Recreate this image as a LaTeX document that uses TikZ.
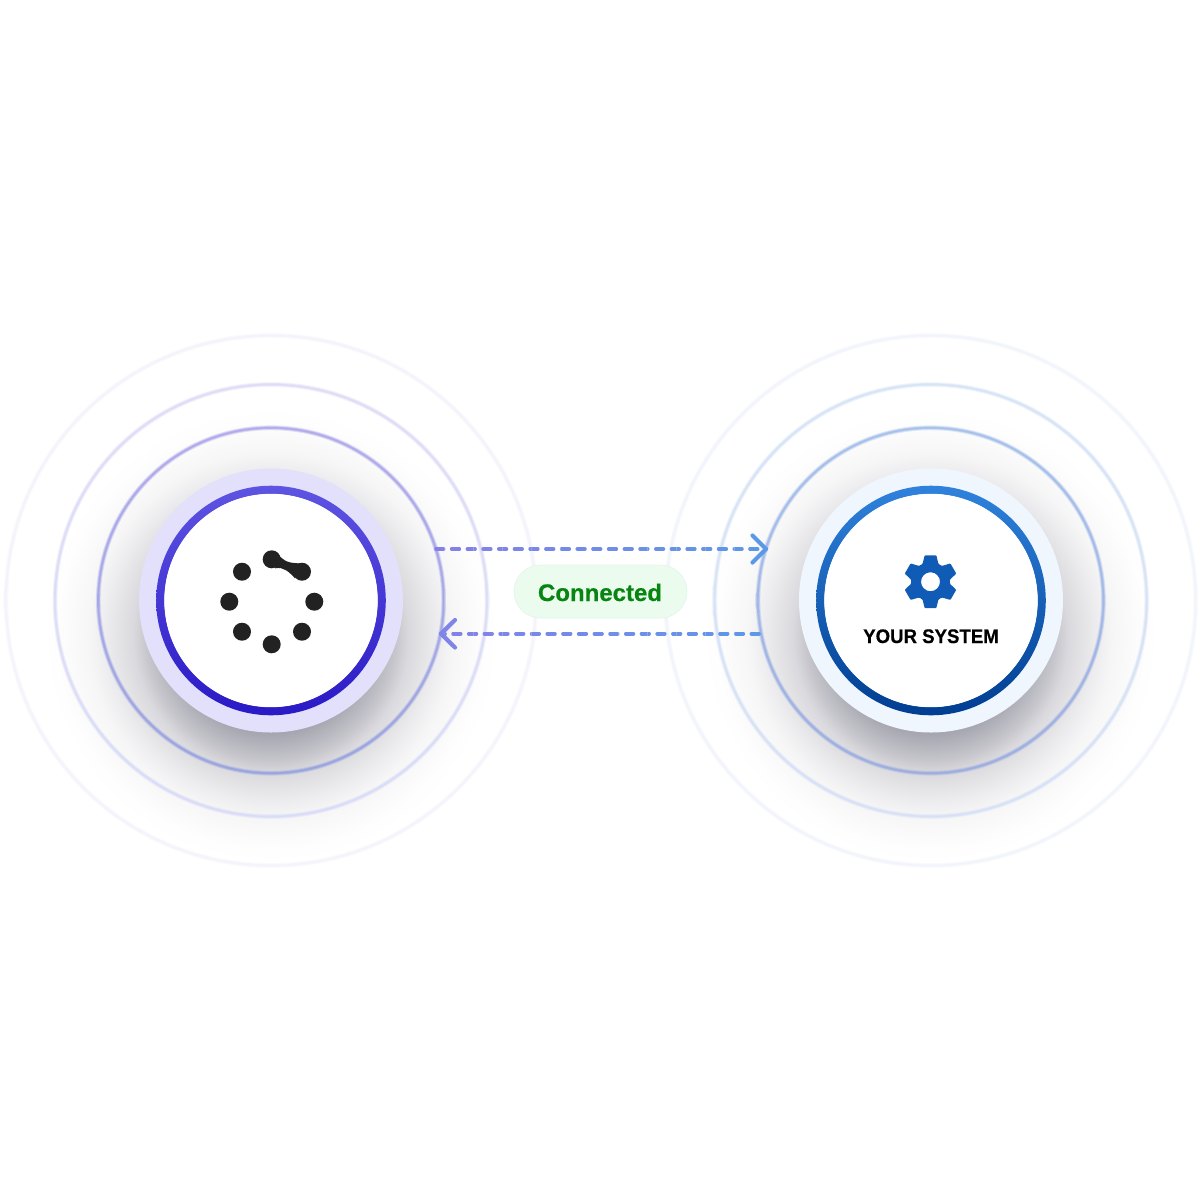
\documentclass[tikz,border=0pt]{standalone}
\usepackage{fontspec}
\usetikzlibrary{calc}
\setmainfont{Liberation Sans}
\newfontfamily\heavyfont{Liberation Sans Bold}[FakeBold=0.45]
\definecolor{sa}{HTML}{9E9EA8}
\definecolor{sb}{HTML}{A8A8B2}
\definecolor{sc}{HTML}{C6C6CC}
\definecolor{sd}{HTML}{DADADE}
\definecolor{se}{HTML}{ECECEE}
\definecolor{sf}{HTML}{F6F6F7}
\definecolor{sg}{HTML}{FEFEFE}
\pgfdeclareradialshading{softshadow}{\pgfpointorigin}{%
 color(0bp)=(sa); color(9.78bp)=(sa); color(10.87bp)=(sb); color(13.6bp)=(sc);
 color(15bp)=(sd); color(17.93bp)=(se); color(19.8bp)=(sf); color(23.4bp)=(sg); color(25bp)=(white); color(50bp)=(white)}
\definecolor{dl}{HTML}{8580E8}
\definecolor{dr}{HTML}{5C98E8}
\definecolor{logoc}{HTML}{222222}
\definecolor{gearc}{HTML}{0F5BB5}
\definecolor{pillf}{HTML}{EBFCEF}
\definecolor{pilld}{HTML}{E0F4EC}
\definecolor{connc}{HTML}{078510}
\definecolor{lda}{HTML}{E2E0FA}
\definecolor{ldb}{HTML}{F0F6FE}
\definecolor{lrt}{HTML}{5E54E2}
\definecolor{lrb}{HTML}{2A1AC6}
\definecolor{rrt}{HTML}{2F82DC}
\definecolor{rrb}{HTML}{003E92}
\tikzset{
 x=1pt,y=-1pt,
 shadowdisc/.style={shading=softshadow},
 ringline/.style={even odd rule},
 dashline/.style={line width=3.7pt,line cap=round,dash pattern=on 7.6pt off 8.1pt},
 chevron/.style={line width=4.2pt,line cap=round,line join=round},
 logodot/.style={circle,fill=logoc,minimum size=18pt,inner sep=0pt,outer sep=0pt},
 discnode/.style={circle,minimum size=264pt,inner sep=0pt,outer sep=0pt},
 innernode/.style={circle,fill=white,minimum size=213.4pt,inner sep=0pt,outer sep=0pt},
 pill/.style={rounded corners=26.5pt,minimum width=173pt,minimum height=53pt,fill=pillf,draw=pilld,line width=0.6pt,inner sep=0pt},
}
% soft ring: centre x, y, radius, top colour, bottom colour (wide faint stroke under a narrow one)
\newcommand{\softring}[5]{%
 \shade[ringline,opacity=0.3,top color=#4,bottom color=#5] (#1,#2) circle (#3+2.4) circle (#3-2.4);
 \shade[ringline,opacity=0.5,top color=#4,bottom color=#5] (#1,#2) circle (#3+1.5) circle (#3-1.5);
 \shade[ringline,opacity=0.7,top color=#4,bottom color=#5] (#1,#2) circle (#3+0.7) circle (#3-0.7);
}
\newcommand{\halo}[8]{% x, y, colours top/bottom for the three rings
 \definecolor{hta}{HTML}{#3}\definecolor{hba}{HTML}{#4}%
 \definecolor{htb}{HTML}{#5}\definecolor{hbb}{HTML}{#6}%
 \definecolor{htc}{HTML}{#7}\definecolor{hbc}{HTML}{#8}%
 \shade[shadowdisc] (#1,#2+35) circle (230);
 \softring{#1}{#2}{172.7}{hta}{hba}
 \softring{#1}{#2}{216}{htb}{hbb}
 \softring{#1}{#2}{265}{htc}{hbc}
}
\begin{document}
\begin{tikzpicture}
\useasboundingbox (0,0) rectangle (1200,1200);
\fill[white] (0,0) rectangle (1200,1200);
\halo{271}{600.5}{A8A0EA}{929EE0}{DCD9F7}{D6DAF7}{F4F3FC}{F3F4FC}
\halo{930.7}{600.5}{9CBAEA}{96A8E0}{D2E2F6}{D4DFF6}{F1F4FC}{F1F4FC}
% left disc
\node[discnode,fill=lda] (leftdisc) at (271,600.5) {};
\shade[ringline,top color=lrt,bottom color=lrb] (271,600.5) circle (114.8) circle (106.6);
\node[innernode] (leftinner) at (271,600.5) {};
% logo
\foreach \n/\px/\py in {a/271.7/559.3,b/302/571.7,c/314.3/601.7,d/302/631.7,e/271.7/644.3,f/242/631.7,g/229.3/601.7,h/242/571.7}
  \node[logodot] (dot\n) at (\px,\py) {};
\fill[logoc] ($(dota)+(6.6,-4.3)$) .. controls ($(dota)+(11.3,-0.3)$) and ($(dota)+(13.3,4)$) .. ($(dotb)+(-2,-8.4)$)
  -- ($(dotb)+(-7,6.6)$) .. controls ($(dotb)+(-13,0.3)$) and ($(dotb)+(-18,-5.2)$) .. ($(dota)+(3.3,9)$) -- cycle;
% right disc
\node[discnode,fill=ldb] (rightdisc) at (931,600.5) {};
\shade[ringline,top color=rrt,bottom color=rrb] (931,600.5) circle (114.8) circle (106.6);
\node[innernode] (rightinner) at (931,600.5) {};
% gear
\begin{scope}[shift={(930.5,581.7)}]
\fill[gearc,even odd rule,rounded corners=0.8pt]
 (90-12.5:27) -- (90+12.5:27) -- (90+24:19.5) -- (90+36:19.5)
 -- (150-12.5:27) -- (150+12.5:27) -- (150+24:19.5) -- (150+36:19.5)
 -- (210-12.5:27) -- (210+12.5:27) -- (210+24:19.5) -- (210+36:19.5)
 -- (270-12.5:27) -- (270+12.5:27) -- (270+24:19.5) -- (270+36:19.5)
 -- (330-12.5:27) -- (330+12.5:27) -- (330+24:19.5) -- (330+36:19.5)
 -- (30-12.5:27) -- (30+12.5:27) -- (30+24:19.5) -- (30+36:19.5) -- cycle
 (0,0) circle (9.5);
\end{scope}
\node[font=\fontsize{19.6pt}{20pt}\heavyfont,text=black,inner sep=0pt,anchor=base] (yoursystem) at (931,643) {\scalebox{0.95}[1]{YOUR SYSTEM}};
% connectors
\coordinate (topstart) at (436,549);
\coordinate (toptip) at (766,549);
\coordinate (topw1) at (752.5,535.5);
\coordinate (topw2) at (752.5,562.5);
\coordinate (botstart) at (759,633.7);
\coordinate (bottip) at (441,633.7);
\coordinate (botw1) at (455,620);
\coordinate (botw2) at (455,647.5);
\foreach \i in {0,...,23}{
 \pgfmathsetmacro{\xa}{430+\i*14.5}
 \pgfmathsetmacro{\pc}{\i*100/23}
 \begin{scope}
 \clip (\xa,500) rectangle (\xa+14.6,680);
 \draw[dashline,color={dr!\pc!dl}] (topstart) -- (toptip);
 \draw[dashline,color={dr!\pc!dl}] (botstart) -- (bottip);
 \end{scope}
}
\draw[chevron,dr] (topw1) -- (toptip) -- (topw2);
\draw[chevron,color=dr!15!dl] (botw1) -- (bottip) -- (botw2);
% pill
\node[pill] (connected) at (600.5,591.5) {};
\node[font=\fontsize{24pt}{26pt}\heavyfont,text=connc,inner sep=0pt,anchor=base] (connlabel) at (600,601) {Connected};
\end{tikzpicture}
\end{document}
